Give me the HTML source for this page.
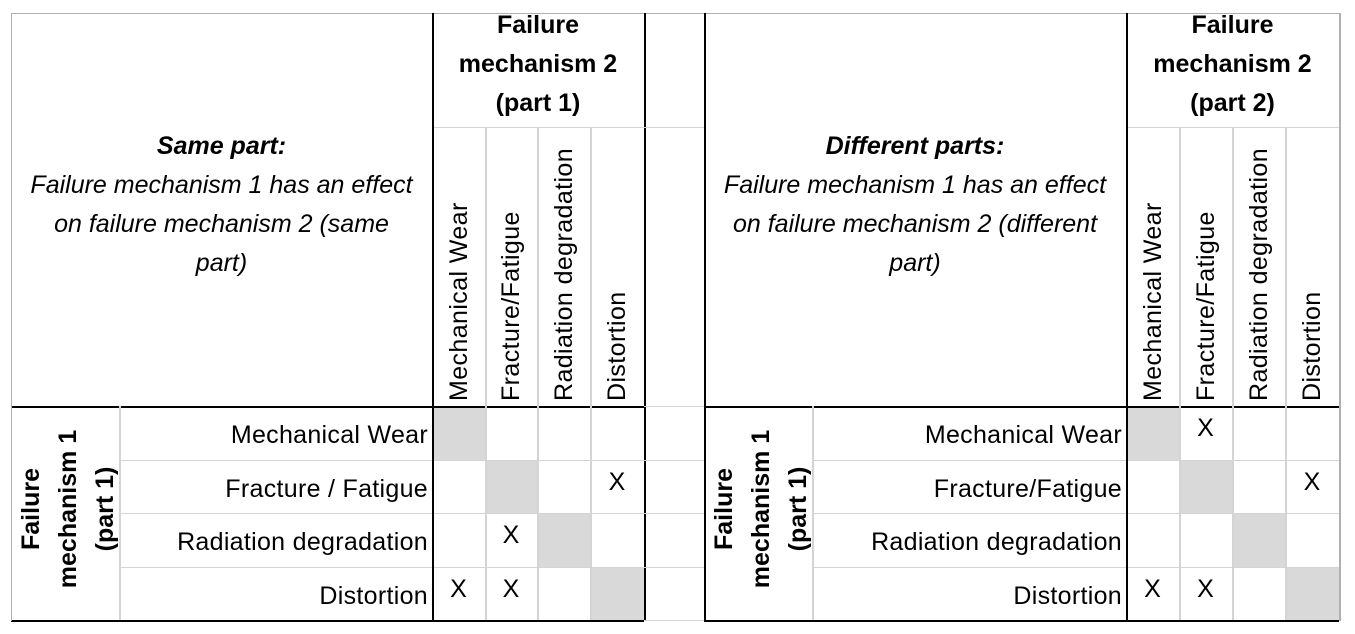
<!DOCTYPE html>
<html><head><meta charset="utf-8"><style>
body{margin:0;width:1355px;height:634px;background:#fff;position:relative;overflow:hidden;font-family:"Liberation Sans",sans-serif;color:#000}
.l{position:absolute}
.t{position:absolute;font-size:25px;white-space:nowrap}
.c{text-align:center}
</style></head><body>
<div id="root"></div>
<script>
const mechs=["Mechanical Wear","Fracture/Fatigue","Radiation degradation","Distortion"];
const rowLabelsLeft=["Mechanical Wear","Fracture / Fatigue","Radiation degradation","Distortion"];
const rowLabelsRight=["Mechanical Wear","Fracture/Fatigue","Radiation degradation","Distortion"];
const marksLeft=[[0,0,0,0],[0,0,0,1],[0,1,0,0],[1,1,0,0]];
const marksRight=[[0,1,0,0],[0,0,0,1],[0,0,0,0],[1,1,0,0]];
const root=document.body;
function line(x,y,w,h,col,name){const d=document.createElement('div');d.className='l';d.style.cssText=`left:${x}px;top:${y}px;width:${w}px;height:${h}px;background:${col}`;


root.appendChild(d);return d;}
function txt(html,css,name){const d=document.createElement('div');d.className='t';d.innerHTML=html;d.style.cssText=css;


root.appendChild(d);return d;}
const G='#d4d4d4',B='#000';
const rows=[406,460,513,567,620];
function table(x0,labX,cols,rowLabels,marks,title,sub,part,prefix){
  for(let i=0;i<4;i++){line(cols[i]+1,rows[i]+1,cols[i+1]-cols[i]-1,rows[i+1]-rows[i]-1,'#d9d9d9','diagonal-cell');}
  line(x0,13,cols[4]-x0+(prefix==='left'?60:1),1,'#b0b0b0','top-border');
  line(cols[0],127,cols[4]-cols[0],1,G,'header-divider');
  line(x0,rows[0],cols[4]-x0,2,B,'header-bottom-line');
  for(let i=1;i<4;i++){line(labX,rows[i],cols[4]-labX,1,G,'row-line');}
  line(x0,rows[4],cols[4]-x0,2,B,'bottom-line');
  line(x0,13,prefix==='left'?1:2,608,prefix==='left'?'#b0b0b0':B,'left-border');
  line(labX,rows[0],2,rows[4]-rows[0],G,'label-divider');
  line(cols[0],13,2,608,B,'matrix-left-line');
  for(let i=1;i<4;i++){line(cols[i],127,2,rows[4]-127,G,'col-line');}
  line(cols[4],13,2,608,prefix==='left'?B:'#b0b0b0','matrix-right-line');
  txt(`<b><i>${title}</i></b><br><i>${sub}</i>`,`left:${x0+4}px;top:127px;width:${cols[0]-x0-8}px;line-height:39px`,prefix+'-title').classList.add('c');
  txt(`<b>Failure<br>mechanism 2<br>(part ${part})</b>`,`left:${cols[0]}px;top:6px;width:${cols[4]-cols[0]}px;line-height:39px`,prefix+'-column-group-header').classList.add('c');
  for(let i=0;i<4;i++){const cx=(cols[i]+cols[i+1])/2;
    txt(mechs[i],`left:${cx}px;top:401px;transform-origin:0 0;transform:rotate(-90deg) translate(0,-15px);line-height:30px;letter-spacing:0.4px`,'column-header');}
  txt(`<b>Failure<br>mechanism 1<br>(part 1)</b>`,`left:${x0+2}px;top:${rows[4]-4}px;width:${rows[4]-rows[0]}px;transform-origin:0 0;transform:rotate(-90deg);line-height:37px;text-align:center`,prefix+'-row-group-header');
  for(let i=0;i<4;i++){
    txt(rowLabels[i],`right:${1355-cols[0]+4}px;top:${rows[i]+15}px;line-height:28px;letter-spacing:0.3px`,'row-label');
    for(let j=0;j<4;j++){if(marks[i][j]){
      txt('X',`left:${cols[j]}px;width:${cols[j+1]-cols[j]}px;top:${rows[i]+8}px;line-height:28px;text-align:center`,'x-mark');}}
  }
}
table(11,119,[432,485,537,590,644],rowLabelsLeft,marksLeft,'Same part:','Failure mechanism 1 has an effect<br>on failure mechanism 2 (same<br>part)',1,'left');
for(let i=0;i<5;i++) line(644,rows[i],60,1,G,'spacer-line');
line(644,127,60,1,G,'spacer-line');
table(704,812,[1126,1179,1232,1285,1339],rowLabelsRight,marksRight,'Different parts:','Failure mechanism 1 has an effect<br>on failure mechanism 2 (different<br>part)',2,'right');
</script>
</body></html>
